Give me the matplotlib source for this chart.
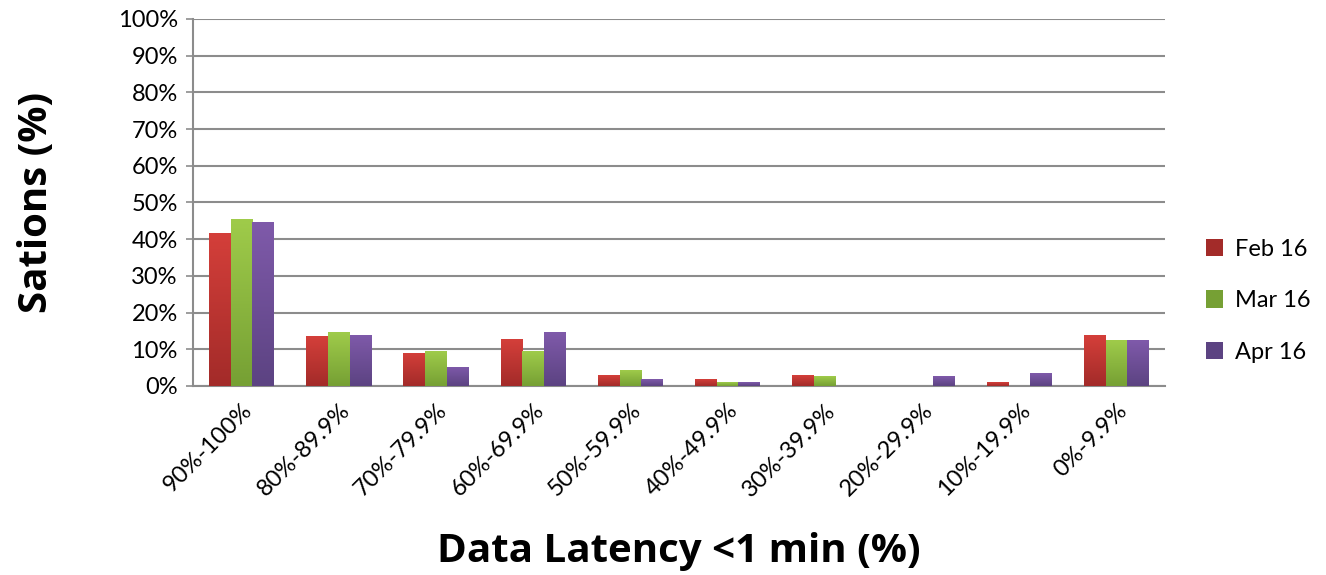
import numpy as np
import matplotlib.pyplot as plt
from matplotlib.colors import LinearSegmentedColormap

# data
categories = ['90%-100%', '80%-89.9%', '70%-79.9%', '60%-69.9%', '50%-59.9%',
              '40%-49.9%', '30%-39.9%', '20%-29.9%', '10%-19.9%', '0%-9.9%']
feb16 = [41.7, 13.6, 9.0, 12.8, 2.9, 1.8, 2.9, 0.0, 1.0, 13.8]
mar16 = [45.5, 14.7, 9.5, 9.5, 4.3, 1.0, 2.7, 0.0, 0.0, 12.4]
apr16 = [44.7, 13.9, 5.2, 14.7, 1.8, 1.0, 0.0, 2.7, 3.5, 12.4]
series_names = ['Feb 16', 'Mar 16', 'Apr 16']

plt.rcParams['font.family'] = ['Lato', 'DejaVu Sans']

# (top colour, bottom colour) for the gradient fill
grad = [('#D43F3A', '#A32B29'), ('#9FCB4A', '#76A034'), ('#7F5AAA', '#5C4382')]

fig = plt.figure(figsize=(13.26, 5.75), dpi=100)
ax = fig.add_axes([0.1455, 0.3287, 0.7331, 0.6383])

x = np.arange(len(categories))
w = 0.223
grid = np.linspace(0, 1, 64).reshape(-1, 1)
for i, vals in enumerate([feb16, mar16, apr16]):
    top, bot = grad[i]
    cmap = LinearSegmentedColormap.from_list('g%d' % i, [bot, top])
    bars = ax.bar(x + (i - 1) * w, vals, width=w, color=top, label=series_names[i],
                  zorder=3, linewidth=0)
    for b in bars:
        h = b.get_height()
        if h <= 0:
            continue
        im = ax.imshow(grid, cmap=cmap, origin='lower', aspect='auto', zorder=3.5,
                       extent=[b.get_x(), b.get_x() + b.get_width(), 0, h])
        im.set_clip_path(b)

ax.set_xlim(-0.5, len(categories) - 0.5)
ax.set_ylim(0, 100)
ax.set_yticks(range(0, 101, 10))
ax.set_yticklabels(['%d%%' % v for v in range(0, 101, 10)], fontsize=17)
ax.set_xticks(x)
ax.set_xticklabels(categories, rotation=45, ha='right', rotation_mode='anchor', fontsize=17)
ax.tick_params(axis='x', length=0, pad=10)
ax.tick_params(axis='y', length=5, width=1.2, color='#8C8C8C', pad=6)

ax.grid(axis='y', color='#8C8C8C', linewidth=1.5, zorder=0)
for s in ['top', 'right']:
    ax.spines[s].set_visible(False)
for s in ['left', 'bottom']:
    ax.spines[s].set_color('#8C8C8C')
    ax.spines[s].set_linewidth(1.5)

ax.set_ylabel('Sations (%)', fontsize=29, fontweight='bold', family='Open Sans', labelpad=44)
ax.set_xlabel('Data Latency <1 min (%)', fontsize=29, fontweight='bold', family='Open Sans',
              labelpad=23)

leg = ax.legend(loc='center left', bbox_to_anchor=(1.02, 0.232), frameon=False,
                fontsize=17, handlelength=0.75, handleheight=0.75,
                labelspacing=1.3, handletextpad=0.5)
for i, h in enumerate(leg.legend_handles):
    h.set_color(grad[i][1])

fig.savefig('out.png', dpi=100, facecolor='white')
